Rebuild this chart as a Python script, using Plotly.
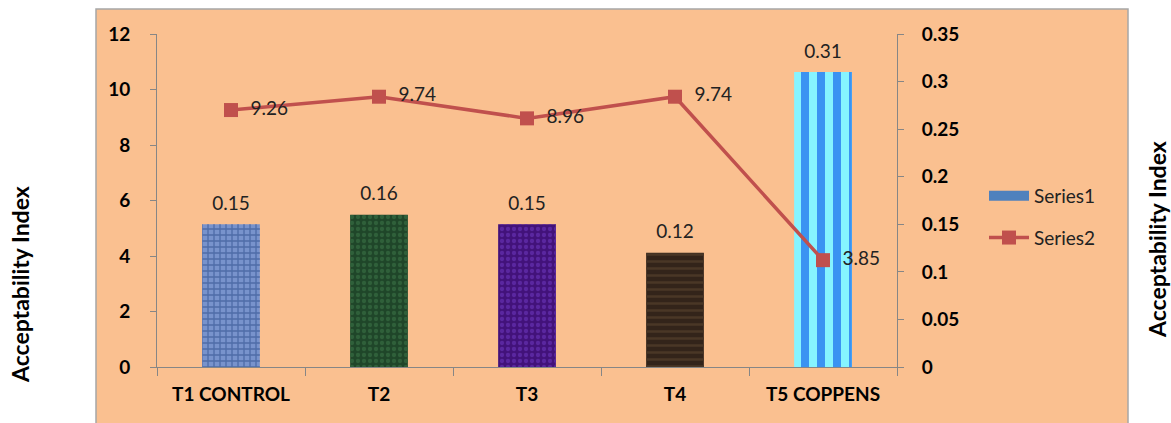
import plotly.graph_objects as go

categories = ["T1 CONTROL", "T2", "T3", "T4", "T5 COPPENS"]
series1 = [0.15, 0.16, 0.15, 0.12, 0.31]
series2 = [9.26, 9.74, 8.96, 9.74, 3.85]
series1_labels = ["0.15", "0.16", "0.15", "0.12", "0.31"]
series2_labels = ["9.26", "9.74", "8.96", "9.74", "3.85"]

bar_bg = ["#7893CC", "#1F4629", "#42127A", "#33241A", "#86F4FF"]
bar_fg = ["#4E6CA8", "#2F603A", "#5A27A0", "#4A3726", "#3A93F2"]
bar_shape = ["+", ".", ".", "-", "|"]
bar_size = [6, 6, 6, 7, 16]
bar_solid = [0.4, 0.4, 0.4, 0.35, 0.5]

FONT = "Lato"
GRAY = "#868686"

fig = go.Figure()

# Series1 bars: solid base
fig.add_trace(go.Bar(
    x=categories, y=series1, yaxis="y", name="Series1", showlegend=False,
    width=0.39, marker=dict(color=bar_bg, line=dict(width=0)),
))
# Series1 bars: texture overlay
fig.add_trace(go.Bar(
    x=categories, y=series1, yaxis="y", name="Series1", showlegend=False,
    width=0.39, hoverinfo="skip",
    marker=dict(color=bar_fg, line=dict(width=0),
                pattern=dict(shape=bar_shape, size=bar_size, solidity=bar_solid,
                             fillmode="replace", bgcolor="rgba(0,0,0,0)")),
))
# bar value labels
fig.add_trace(go.Scatter(
    x=categories, y=series1, yaxis="y", mode="markers+text", showlegend=False,
    marker=dict(size=14, opacity=0), text=series1_labels,
    textposition="top center", cliponaxis=False, hoverinfo="skip",
    textfont=dict(family=FONT, size=19, color="#222222"),
))
# legend entry for Series1 (wide swatch)
fig.add_trace(go.Scatter(
    x=[None], y=[None], yaxis="y", name="Series1", mode="lines",
    line=dict(color="#4F81BD", width=15), legendgroup="a", showlegend=True,
))
fig.add_trace(go.Scatter(
    x=categories, y=series2, yaxis="y2", name="Series2",
    mode="lines+markers+text", legendgroup="b",
    line=dict(color="#C0504D", width=3.5),
    marker=dict(symbol="square", size=14, color="#C0504D"),
    text=["  " + t for t in series2_labels], textposition="middle right", cliponaxis=False,
    textfont=dict(family=FONT, size=19, color="#222222"),
))

tick_font = dict(family=FONT, size=19, color="black", weight="bold")

fig.update_layout(
    width=1171, height=423,
    margin=dict(l=157, r=274, t=34, b=56),
    paper_bgcolor="white", plot_bgcolor="rgba(0,0,0,0)",
    barmode="overlay",
    font=dict(family=FONT, color="black"),
    xaxis=dict(
        showline=True, linecolor=GRAY, linewidth=1,
        ticks="outside", tickson="boundaries", ticklen=8, tickcolor=GRAY,
        tickfont=dict(family=FONT, size=19, color="black", weight="bold"),
        ticklabelstandoff=10, showgrid=False, zeroline=False,
    ),
    yaxis=dict(
        side="right", range=[0, 0.35], dtick=0.05,
        showline=True, linecolor=GRAY, linewidth=1,
        ticks="outside", ticklen=6, tickcolor=GRAY,
        tickfont=tick_font,
        ticklabelstandoff=14, showgrid=False, zeroline=False,
    ),
    yaxis2=dict(
        side="left", overlaying="y", range=[0, 12], dtick=2,
        showline=True, linecolor=GRAY, linewidth=1,
        ticks="outside", ticklen=6, tickcolor=GRAY,
        tickfont=tick_font,
        ticklabelstandoff=16, showgrid=False, zeroline=False,
    ),
    legend=dict(
        x=(984 - 157) / 740, y=(367 - 217) / 333, xanchor="left", yanchor="middle",
        bgcolor="rgba(0,0,0,0)", font=dict(family=FONT, size=19, color="#222222"),
        tracegroupgap=14, itemwidth=40,
    ),
    shapes=[dict(
        type="rect", xref="paper", yref="paper", layer="below",
        x0=(96 - 157) / 740, x1=(1128 - 157) / 740,
        y0=(367 - 440) / 333, y1=(367 - 9) / 333,
        fillcolor="#FAC090", line=dict(color="#A6A6A6", width=1.5),
    )],
    annotations=[
        dict(text="Acceptability Index", xref="paper", yref="paper",
             x=(20 - 157) / 740, y=(367 - 285) / 333, textangle=-90,
             showarrow=False, xanchor="center", yanchor="middle",
             font=dict(family=FONT, size=23, color="black", weight="bold")),
        dict(text="Acceptability Index", xref="paper", yref="paper",
             x=(1157 - 157) / 740, y=(367 - 240) / 333, textangle=-90,
             showarrow=False, xanchor="center", yanchor="middle",
             font=dict(family=FONT, size=23, color="black", weight="bold")),
    ],
)

fig.write_html("out.html", config={"displayModeBar": False},
               post_script="document.body.style.margin='0';")
